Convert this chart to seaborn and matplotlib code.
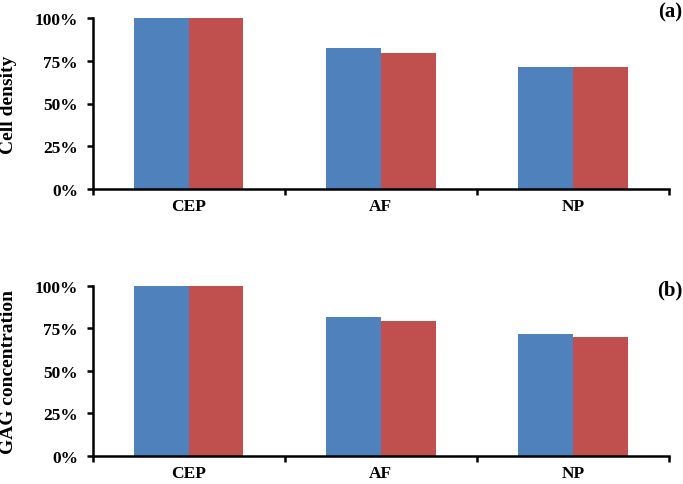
import matplotlib
matplotlib.use("Agg")
import matplotlib.pyplot as plt
from matplotlib.ticker import PercentFormatter, FixedLocator
import seaborn as sns
import pandas as pd

# ---- data ----
categories = ["CEP", "AF", "NP"]
series_names = ["Series 1", "Series 2"]
cell_density_s1 = [100.0, 82.3, 71.6]
cell_density_s2 = [100.0, 79.8, 71.2]
gag_s1 = [100.0, 81.9, 71.8]
gag_s2 = [100.0, 79.0, 70.0]
y_ticks = [0, 25, 50, 75, 100]
panel_labels = ["(a)", "(b)"]
y_labels = ["Cell density", "GAG concentration"]

colors = ["#4F81BD", "#C0504D"]

sns.set_style("ticks")
plt.rcParams["font.family"] = ["Liberation Serif", "DejaVu Serif"]
plt.rcParams["font.weight"] = "bold"
for k in ["text.color", "axes.labelcolor", "xtick.color", "ytick.color", "axes.edgecolor"]:
    plt.rcParams[k] = "black"

def make_df(s1, s2):
    return pd.DataFrame({
        "category": categories * 2,
        "series": [series_names[0]] * 3 + [series_names[1]] * 3,
        "value": list(s1) + list(s2),
    })

fig = plt.figure(figsize=(6.83, 4.85), dpi=100)
W, H = 683, 485
left_px, right_px = 92.7, 669
axes_pos = [(19, 190), (286.7, 457)]
datasets = [(cell_density_s1, cell_density_s2), (gag_s1, gag_s2)]
panel_y = [12, 290]

for i, ((top, bot), (s1, s2)) in enumerate(zip(axes_pos, datasets)):
    ax = fig.add_axes([left_px / W, 1 - bot / H, (right_px - left_px) / W, (bot - top) / H])
    df = make_df(s1, s2)
    sns.barplot(data=df, x="category", y="value", hue="series", order=categories,
                hue_order=series_names, palette=colors, width=0.57, saturation=1,
                linewidth=0, legend=False, ax=ax, errorbar=None)
    ax.set_xlim(-0.5, 2.5)
    ax.set_ylim(0, 100)
    ax.yaxis.set_major_locator(FixedLocator(y_ticks))
    ax.yaxis.set_major_formatter(PercentFormatter(xmax=100, decimals=0))
    ax.xaxis.set_minor_locator(FixedLocator([-0.5, 0.5, 1.5, 2.5]))
    for s in ["top", "right"]:
        ax.spines[s].set_visible(False)
    for s in ["left", "bottom"]:
        ax.spines[s].set_linewidth(1.8)
        ax.spines[s].set_color("black")
    ax.tick_params(axis="x", which="major", length=0, pad=6.5, labelsize=12.5, colors="black")
    ax.tick_params(axis="x", which="minor", length=4.5, width=1.8, direction="out", color="black")
    ax.tick_params(axis="y", which="major", length=4, width=1.8, pad=6.6, labelsize=12.5, colors="black")
    for lab in ax.get_xticklabels() + ax.get_yticklabels():
        lab.set_fontweight("bold")
    ax.set_xlabel("")
    ax.set_ylabel(y_labels[i], fontsize=14, fontweight="bold", color="black")
    ax.yaxis.set_label_coords((17 - left_px) / (right_px - left_px), 0.5)
    fig.text(682 / W, 1 - panel_y[i] / H, panel_labels[i], ha="right", va="center",
             fontsize=15, fontweight="bold", color="black")

fig.savefig("out.png", dpi=100)
